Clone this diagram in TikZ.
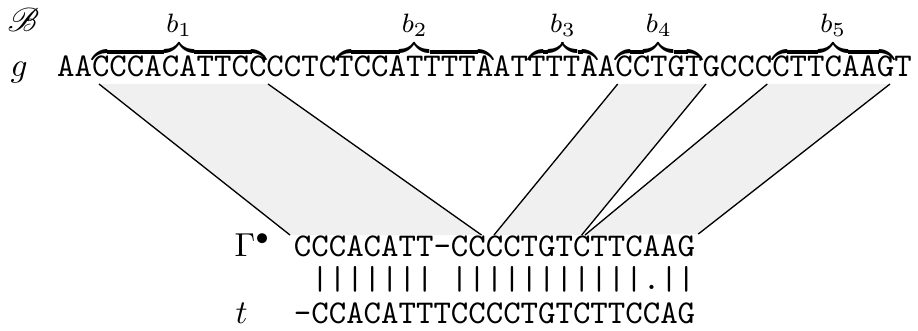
\documentclass[tikz,border=0pt]{standalone}
\usepackage{mathrsfs}
% brace over a run of bases, with its label above; tighter gap than \overbrace
\newcommand\blockbrace[2]{\mathop{\vbox{\ialign{##\crcr
  \noalign{\kern3pt}\downbracefill\crcr
  \noalign{\kern0.6pt\nointerlineskip}\hfil\texttt{#1}\hfil\crcr}}}\limits^{\mbox{\fontsize{8}{9}\selectfont$#2$}}}
\begin{document}
\begin{tikzpicture}[x=0.301pt,y=-0.301pt,
  seq/.style={anchor=base west,inner sep=0pt,font=\ttfamily},
  lbl/.style={anchor=base west,inner sep=0pt},
  block/.style={fill=black!6},
  side/.style={draw=black,line width=0.4pt}]
\useasboundingbox (0,0) rectangle (918,330);

% corners of the three matched blocks (upper edge on g, lower edge on Gamma)
\coordinate (b1tl) at (99,84);    \coordinate (b1tr) at (268,84);
\coordinate (b1bl) at (290,235);  \coordinate (b1br) at (481.5,235);
\coordinate (b4tl) at (617.7,84); \coordinate (b4tr) at (706,84);
\coordinate (b4bl) at (494,235);  \coordinate (b4br) at (581.7,235);
\coordinate (b5tl) at (767.3,84); \coordinate (b5tr) at (890,84);
\coordinate (b5bl) at (585,235);  \coordinate (b5br) at (698.3,234);

% shaded bands
\foreach \b in {b1,b4,b5}{
  \fill[block] (\b tl) -- (\b tr) -- (\b br) -- (\b bl) -- cycle;
  \draw[side] (\b tl) -- (\b bl);
  \draw[side] (\b tr) -- (\b br);
}

% genome with its blocks
\node[lbl] (B) at (7,31) {$\mathscr{B}$};
\node[lbl] (g) at (10,76.5) {$g$};
\node[seq] (gseq) at (56.5,76.5) {AA$\blockbrace{CCCACATTCC}{b_1}$CCTC$\blockbrace{TCCATTTTA}{b_2}$AT$\blockbrace{TTTA}{b_3}$A$\blockbrace{CCTGT}{b_4}$GCCC$\blockbrace{CTTCAAG}{b_5}$T};

% alignment of the chain against the transcript
\node[lbl] (gam) at (234,256.5) {$\Gamma^\bullet$};
\node[seq] (gamseq) at (293.3,256.5) {CCCACATT-CCCCTGTCTTCAAG};
\node[seq] (bars) at (293.3,289.5) {\ |||||||\ |||||||||||.||};
\node[lbl] (t) at (235,323) {$t$};
\node[seq] (tseq) at (293.3,323) {-CCACATTTCCCCTGTCTTCCAG};
\end{tikzpicture}
\end{document}
